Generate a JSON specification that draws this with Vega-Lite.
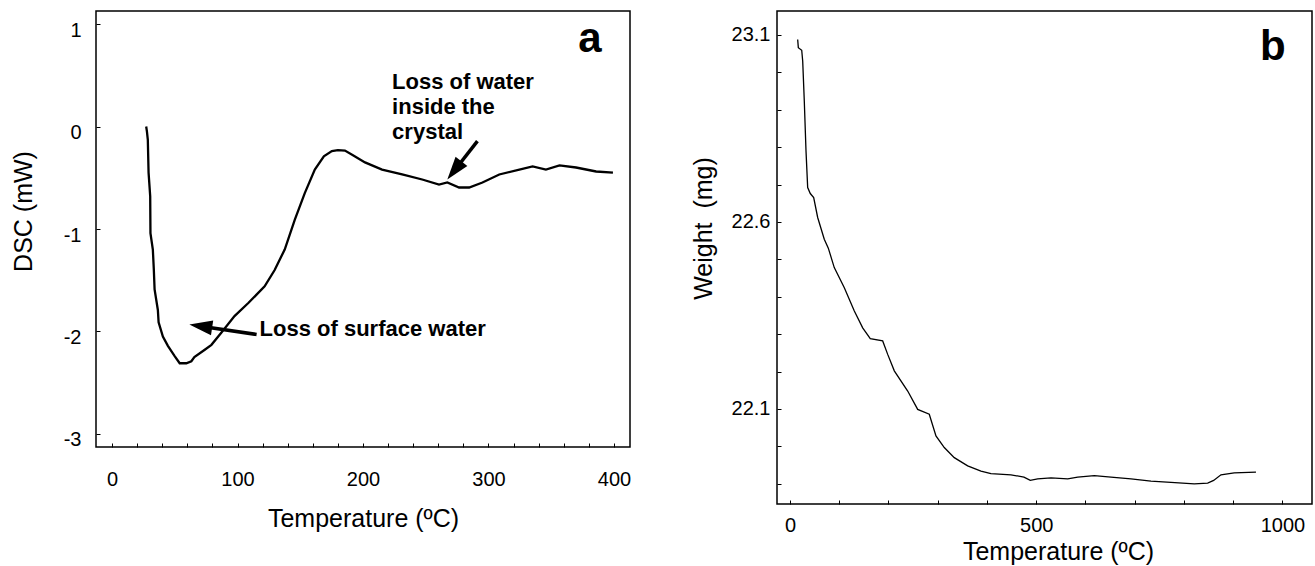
{
  "$schema": "https://vega.github.io/schema/vega-lite/v6.json",
  "padding": {"left": 10, "top": 10, "right": 4, "bottom": 4},
  "background": "white",
  "spacing": 147,
  "bounds": "flush",
  "datasets": {
    "dsc": [
      {"T": 27.2, "D": 0.0}, {"T": 27.8, "D": -0.05}, {"T": 28.5, "D": -0.13}, {"T": 29.1, "D": -0.45},
      {"T": 30.4, "D": -0.68}, {"T": 30.6, "D": -1.04}, {"T": 32.5, "D": -1.2}, {"T": 33.3, "D": -1.4},
      {"T": 33.9, "D": -1.59}, {"T": 36.5, "D": -1.79}, {"T": 37.1, "D": -1.91}, {"T": 40.5, "D": -2.05},
      {"T": 44.5, "D": -2.14}, {"T": 49.9, "D": -2.24}, {"T": 53.9, "D": -2.31}, {"T": 59.2, "D": -2.31},
      {"T": 63.2, "D": -2.29}, {"T": 65.6, "D": -2.25}, {"T": 73.6, "D": -2.18}, {"T": 79.2, "D": -2.13},
      {"T": 87.2, "D": -2.01}, {"T": 97.6, "D": -1.85}, {"T": 108.8, "D": -1.72}, {"T": 121.6, "D": -1.56},
      {"T": 129.6, "D": -1.4}, {"T": 137.6, "D": -1.2}, {"T": 145.6, "D": -0.91}, {"T": 153.6, "D": -0.65},
      {"T": 161.6, "D": -0.42}, {"T": 168.8, "D": -0.29}, {"T": 175.2, "D": -0.24}, {"T": 180.0, "D": -0.23},
      {"T": 185.6, "D": -0.235}, {"T": 192.0, "D": -0.28}, {"T": 201.6, "D": -0.35}, {"T": 215.2, "D": -0.42},
      {"T": 231.2, "D": -0.468}, {"T": 247.2, "D": -0.517}, {"T": 260.6, "D": -0.566}, {"T": 267.2, "D": -0.546},
      {"T": 276.6, "D": -0.595}, {"T": 284.6, "D": -0.595}, {"T": 295.2, "D": -0.546}, {"T": 308.6, "D": -0.468},
      {"T": 324.6, "D": -0.42}, {"T": 335.2, "D": -0.39}, {"T": 345.8, "D": -0.42}, {"T": 356.6, "D": -0.38},
      {"T": 369.8, "D": -0.4}, {"T": 385.8, "D": -0.439}, {"T": 399.2, "D": -0.449}
    ],
    "tga": [
      {"T": 15.6, "W": 23.088}, {"T": 16.9, "W": 23.066}, {"T": 23.8, "W": 23.059}, {"T": 25.8, "W": 23.03},
      {"T": 29.0, "W": 22.924}, {"T": 32.5, "W": 22.79}, {"T": 35.9, "W": 22.692}, {"T": 41.2, "W": 22.676},
      {"T": 48.1, "W": 22.665}, {"T": 56.2, "W": 22.612}, {"T": 69.6, "W": 22.554}, {"T": 77.8, "W": 22.53},
      {"T": 89.9, "W": 22.478}, {"T": 110.3, "W": 22.424}, {"T": 130.6, "W": 22.362}, {"T": 147.6, "W": 22.317},
      {"T": 163.0, "W": 22.288}, {"T": 188.2, "W": 22.282}, {"T": 198.4, "W": 22.246}, {"T": 211.8, "W": 22.202},
      {"T": 239.0, "W": 22.148}, {"T": 259.3, "W": 22.099}, {"T": 282.8, "W": 22.086}, {"T": 296.4, "W": 22.028},
      {"T": 313.3, "W": 21.997}, {"T": 333.6, "W": 21.97}, {"T": 360.8, "W": 21.948}, {"T": 387.8, "W": 21.934},
      {"T": 408.1, "W": 21.927}, {"T": 448.7, "W": 21.924}, {"T": 475.1, "W": 21.918}, {"T": 487.9, "W": 21.909},
      {"T": 502.9, "W": 21.913}, {"T": 530.0, "W": 21.916}, {"T": 563.9, "W": 21.913}, {"T": 584.2, "W": 21.918},
      {"T": 617.9, "W": 21.922}, {"T": 651.8, "W": 21.918}, {"T": 692.4, "W": 21.913}, {"T": 733.0, "W": 21.907},
      {"T": 773.6, "W": 21.904}, {"T": 820.9, "W": 21.9}, {"T": 848.1, "W": 21.902}, {"T": 860.3, "W": 21.909},
      {"T": 875.1, "W": 21.924}, {"T": 902.1, "W": 21.929}, {"T": 946.2, "W": 21.931}
    ],
    "notesA": [
      {"T": 223.2, "D": 0.439, "label": "Loss of water"},
      {"T": 223.2, "D": 0.195, "label": "inside the"},
      {"T": 223.2, "D": -0.049, "label": "crystal"},
      {"T": 117.6, "D": -1.98, "label": "Loss of surface water"}
    ]
  },
  "hconcat": [
    {
      "width": 534,
      "height": 436,
      "encoding": {
        "x": {
          "field": "T", "type": "quantitative",
          "scale": {"domain": [-12.8, 412.8], "nice": false, "zero": false},
          "axis": {
            "title": "Temperature (ºC)",
            "values": [0, 20, 40, 60, 80, 100, 120, 140, 160, 180, 200, 220, 240, 260, 280, 300, 320, 340, 360, 380, 400],
            "labelExpr": "datum.value % 100 == 0 ? format(datum.value, 'd') : ''",
            "tickSize": -4, "labelPadding": 26,
            "titleY": 71, "titleBaseline": "middle", "titleAlign": "center"
          }
        },
        "y": {
          "field": "D", "type": "quantitative",
          "scale": {"domain": [-3.127, 1.127], "nice": false, "zero": false},
          "axis": {
            "title": "DSC (mW)",
            "values": [-3, -2, -1, 0, 1],
            "labelExpr": "datum.value < 0 ? '-' + abs(datum.value) : '' + datum.value",
            "tickSize": -4, "labelPadding": 19, "labelOffset": 6,
            "titleX": -73, "titleY": 200, "titleAngle": -90, "titleBaseline": "middle", "titleAlign": "center"
          }
        }
      },
      "layer": [
        {
          "data": {"name": "dsc"},
          "mark": {"type": "line", "color": "black", "strokeWidth": 2.3, "interpolate": "linear"}
        },
        {
          "data": {"name": "notesA"},
          "mark": {"type": "text", "align": "left", "baseline": "middle", "fontWeight": "bold", "fontSize": 22, "color": "black"},
          "encoding": {"text": {"field": "label"}}
        },
        {
          "data": {"values": [{"T": 380.8, "D": 0.849, "label": "a"}]},
          "mark": {"type": "text", "align": "center", "baseline": "middle", "fontWeight": "bold", "fontSize": 42, "color": "black"},
          "encoding": {"text": {"field": "label"}}
        },
        {
          "data": {"values": [{"T": 115.2, "D": -2.029, "T2": 70.7, "D2": -1.949}, {"T": 291.2, "D": -0.143, "T2": 272.9, "D2": -0.429}]},
          "mark": {"type": "rule", "color": "black", "strokeWidth": 3.5},
          "encoding": {"x2": {"field": "T2"}, "y2": {"field": "D2"}}
        },
        {
          "data": {"values": [{"T": 61.6, "D": -1.932}]},
          "mark": {"type": "point", "shape": "M0,0L0.65,2L-0.65,2Z", "filled": true, "size": 529, "angle": 278.5, "color": "black", "opacity": 1},
          "encoding": {}
        },
        {
          "data": {"values": [{"T": 267.2, "D": -0.517}]},
          "mark": {"type": "point", "shape": "M0,0L0.65,2L-0.65,2Z", "filled": true, "size": 529, "angle": 218, "color": "black", "opacity": 1},
          "encoding": {}
        }
      ]
    },
    {
      "width": 535,
      "height": 493,
      "encoding": {
        "x": {
          "field": "T", "type": "quantitative",
          "scale": {"domain": [-26.4, 1060], "nice": false, "zero": false},
          "axis": {
            "title": "Temperature (ºC)",
            "values": [0, 100, 200, 300, 400, 500, 600, 700, 800, 900, 1000],
            "labelExpr": "datum.value % 500 == 0 ? format(datum.value, 'd') : ''",
            "tickSize": -4, "labelPadding": 15,
            "titleX": 281, "titleY": 47, "titleBaseline": "middle", "titleAlign": "center"
          }
        },
        "y": {
          "field": "W", "type": "quantitative",
          "scale": {"domain": [21.846, 23.164], "nice": false, "zero": false},
          "axis": {
            "title": "Weight\u00a0 (mg)",
            "values": [21.9, 22.0, 22.1, 22.2, 22.3, 22.4, 22.5, 22.6, 22.7, 22.8, 22.9, 23.0, 23.1],
            "labelExpr": "round(datum.value * 10) % 5 == 1 ? format(datum.value, '.1f') : ''",
            "tickSize": -4, "labelPadding": 11,
            "titleX": -74, "titleY": 217, "titleAngle": -90, "titleBaseline": "middle", "titleAlign": "center"
          }
        }
      },
      "layer": [
        {
          "data": {"name": "tga"},
          "mark": {"type": "line", "color": "black", "strokeWidth": 1.3}
        },
        {
          "data": {"values": [{"T": 980.7, "W": 23.068, "label": "b"}]},
          "mark": {"type": "text", "align": "center", "baseline": "middle", "fontWeight": "bold", "fontSize": 42, "color": "black"},
          "encoding": {"text": {"field": "label"}}
        }
      ]
    }
  ],
  "config": {
    "font": "Liberation Sans",
    "view": {"stroke": "black", "strokeWidth": 1.5},
    "axis": {
      "domain": false,
      "grid": false,
      "ticks": true,
      "tickColor": "black",
      "tickWidth": 1,
      "labelColor": "black",
      "labelFontSize": 20,
      "labelFont": "Liberation Sans",
      "labelFlush": false,
      "labelOverlap": false,
      "titleColor": "black",
      "titleFontSize": 25,
      "titleFontWeight": "normal",
      "titleFont": "Liberation Sans"
    }
  }
}
